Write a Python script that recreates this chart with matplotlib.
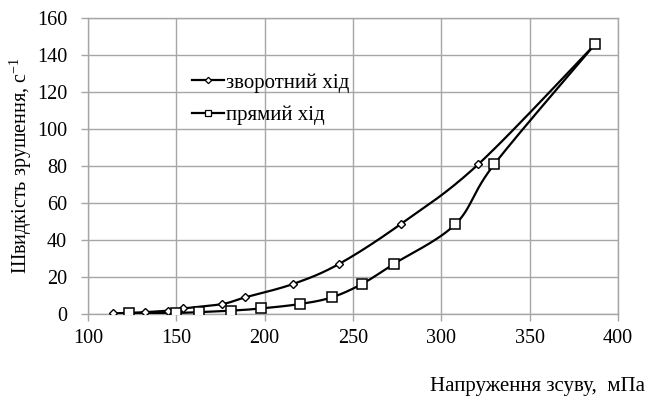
import numpy as np
import matplotlib
matplotlib.use("Agg")
import matplotlib.pyplot as plt

plt.rcParams['font.family'] = ['Liberation Serif', 'DejaVu Serif']
plt.rcParams['mathtext.fontset'] = 'custom'
plt.rcParams['mathtext.rm'] = 'Liberation Serif'

# Shear rate, 1/s (same set for both runs)
rate_back = [0.333, 0.6, 1.0, 1.8, 3.0, 5.4, 9.0, 16.2, 27.0, 48.6, 81.0, 145.8]
stress_back = [114, 123, 132, 145, 154, 176, 189, 216, 242, 277, 321, 387]

rate_fwd = [0.333, 0.6, 1.0, 1.8, 3.0, 5.4, 9.0, 16.2, 27.0, 48.6, 81.0, 145.8]
stress_fwd = [123, 150, 163, 181, 198, 220, 238, 255, 273, 308, 330, 387]

label_back = "зворотний хід"
label_fwd = "прямий хід"
xlabel = "Напруження зсуву,  мПа"
ylabel = "Швидкість зрушення, с$^{\\mathregular{-1}}$"


def smooth(x, y, n=30):
    """Cardinal-spline smoothing through every point (Bezier segments)."""
    x = np.asarray(x, float)
    y = np.asarray(y, float)
    px = np.concatenate([[x[0]], x, [x[-1]]])
    py = np.concatenate([[y[0]], y, [y[-1]]])
    t = np.linspace(0, 1, n)
    xs, ys = [], []
    k = 1 / 6
    for i in range(1, len(px) - 2):
        p0 = np.array([px[i], py[i]])
        p3 = np.array([px[i + 1], py[i + 1]])
        p1 = p0 + k * (np.array([px[i + 1], py[i + 1]]) - np.array([px[i - 1], py[i - 1]]))
        p2 = p3 - k * (np.array([px[i + 2], py[i + 2]]) - np.array([px[i], py[i]]))
        b = ((1 - t) ** 3)[:, None] * p0 + (3 * (1 - t) ** 2 * t)[:, None] * p1 \
            + (3 * (1 - t) * t ** 2)[:, None] * p2 + (t ** 3)[:, None] * p3
        xs.append(b[:, 0])
        ys.append(b[:, 1])
    return np.concatenate(xs), np.concatenate(ys)


fig = plt.figure(figsize=(6.49, 3.96), dpi=100)
ax = fig.add_axes([88 / 649, 1 - 314 / 396, 530 / 649, 296 / 396])

grid_c = '#a6a6a6'
sx, sy = smooth(stress_back, rate_back)
ax.plot(sx, sy, color='black', lw=1.6, zorder=3)
ax.plot(stress_back, rate_back, ls='none', marker='D', ms=4.3, mfc='white',
        mec='black', mew=1.0, zorder=4)
fx, fy = smooth(stress_fwd, rate_fwd)
ax.plot(fx, fy, color='black', lw=1.6, zorder=3)
ax.plot(stress_fwd, rate_fwd, ls='none', marker='s', ms=6.5, mfc='white',
        mec='black', mew=1.1, zorder=4)

# legend entries drawn as proxies with smaller markers
h1, = ax.plot([], [], color='black', lw=1.6, marker='D', ms=3.2, mfc='white', mec='black', mew=0.9)
h2, = ax.plot([], [], color='black', lw=1.6, marker='s', ms=4.0, mfc='white', mec='black', mew=0.9)
ax.legend([h1, h2], [label_back, label_fwd], loc='center left',
          bbox_to_anchor=((192 - 88) / 530, 1 - (99 - 18) / 296), frameon=False,
          fontsize=15, handlelength=1.55, handletextpad=0.1, labelspacing=0.62,
          borderaxespad=0, borderpad=0)

ax.set_xlim(100, 400)
ax.set_ylim(0, 160)
ax.set_xticks(np.arange(100, 401, 50))
ax.set_yticks(np.arange(0, 161, 20))
ax.grid(True, color=grid_c, lw=1.0)
ax.set_axisbelow(True)
for s in ax.spines.values():
    s.set_color(grid_c)
    s.set_linewidth(1.0)
ax.tick_params(colors=grid_c, length=5, width=1.0, labelcolor='black',
               labelsize=14.5)
ax.tick_params(axis='y', pad=10)
ax.tick_params(axis='x', pad=6)

ax.set_ylabel(ylabel, fontsize=14.5, labelpad=2)
fig.text(645 / 649, 1 - 387 / 396, xlabel, ha='right', va='center', fontsize=15)

fig.savefig('out.png', dpi=100)
